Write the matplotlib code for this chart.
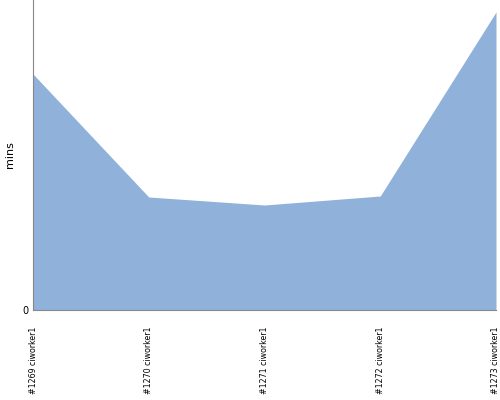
import matplotlib.pyplot as plt

# build labels and durations
builds = ["#1269 ciworker1", "#1270 ciworker1", "#1271 ciworker1",
          "#1272 ciworker1", "#1273 ciworker1"]
minutes = [23.6, 11.3, 10.5, 11.4, 29.8]

fig = plt.figure(figsize=(5, 4), dpi=100)
ax = fig.add_axes([0.066, 0.225, 0.926, 0.775])

x = list(range(len(builds)))
ax.fill_between(x, minutes, 0, color='#8fb1da', linewidth=0)

ax.set_xlim(0, len(builds) - 1)
ax.set_ylim(0, 31)
ax.set_xticks(x)
ax.set_xticklabels(builds, rotation=90, fontsize=5.7)
ax.set_yticks([0])
ax.set_yticklabels(['0'], fontsize=7)
ax.set_ylabel('mins', fontsize=8)
ax.yaxis.set_label_coords(-0.039, 0.5)

for side in ['top', 'right']:
    ax.spines[side].set_visible(False)
for side in ['left', 'bottom']:
    ax.spines[side].set_color('#888888')
ax.tick_params(axis='x', length=0, pad=12)
ax.tick_params(axis='y', length=0, pad=3)

fig.savefig('out.png', dpi=100)
